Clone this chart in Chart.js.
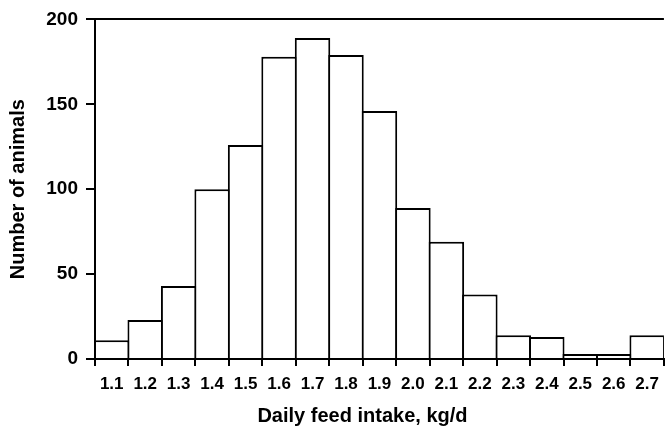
<!DOCTYPE html>
<html>
<head>
<meta charset="utf-8">
<script src="https://cdn.jsdelivr.net/npm/chart.js@4.4.1/dist/chart.umd.min.js"></script>
<style>
  html, body { margin: 0; padding: 0; background: #fff; }
  #wrap { width: 667px; height: 429px; position: relative; }
</style>
</head>
<body>
<div id="wrap"><canvas id="feedChart"></canvas></div>
<script>
// Histogram of daily feed intake
const categories = ['1.1', '1.2', '1.3', '1.4', '1.5', '1.6', '1.7', '1.8', '1.9',
  '2.0', '2.1', '2.2', '2.3', '2.4', '2.5', '2.6', '2.7'];
const animalCounts = [11, 23, 43, 100, 126, 178, 189, 179, 146, 89, 69, 38, 14, 13, 3, 3, 14];
const yTicks = [0, 50, 100, 150, 200];
const xTitle = 'Daily feed intake, kg/d';
const yTitle = 'Number of animals';

const FONT = "'Liberation Sans', Arial, sans-serif";

// x title is a bit left of the plot centre in the original, so draw it by hand
const xTitlePlugin = {
  id: 'xTitle',
  afterDraw(chart) {
    const c = chart.ctx;
    const area = chart.chartArea;
    c.save();
    c.font = 'bold 20px ' + FONT;
    c.fillStyle = '#000';
    c.textAlign = 'center';
    c.textBaseline = 'alphabetic';
    c.fillText(xTitle, (area.left + area.right) / 2 - 17, 422);
    c.restore();
  },
};

const ctx = document.getElementById('feedChart').getContext('2d');
new Chart(ctx, {
  type: 'bar',
  data: {
    labels: categories,
    datasets: [
      {
        data: animalCounts,
        backgroundColor: '#fff',
        borderColor: '#000',
        borderWidth: 2,
        borderSkipped: 'start',
        categoryPercentage: 1,
        barPercentage: 1.06,
      },
    ],
  },
  options: {
    responsive: true,
    maintainAspectRatio: false,
    animation: false,
    layout: { padding: { top: 15, right: 0, left: 0, bottom: 0 } },
    plugins: {
      legend: { display: false },
      tooltip: { enabled: false },
    },
    scales: {
      x: {
        grid: {
          offset: true,
          color: 'transparent',
          tickColor: '#000',
          tickLength: 7,
          lineWidth: 2,
        },
        border: { color: '#000', width: 2 },
        ticks: {
          color: '#000',
          padding: 8,
          maxRotation: 0,
          autoSkip: false,
          font: { family: FONT, size: 17, weight: 'bold' },
        },
        afterFit(scale) { scale.height = 70; },
      },
      y: {
        min: 0,
        max: 200,
        afterBuildTicks(scale) { scale.ticks = yTicks.map((v) => ({ value: v })); },
        grid: {
          color: (c) => (c.tick && c.tick.value === 200 ? '#000' : 'transparent'),
          tickColor: '#000',
          tickLength: 9,
          lineWidth: 2,
        },
        border: { color: '#000', width: 2 },
        ticks: {
          color: '#000',
          padding: 8,
          font: { family: FONT, size: 19, weight: 'bold' },
        },
        title: {
          display: true,
          text: yTitle,
          color: '#000',
          padding: { top: 6, bottom: 0 },
          font: { family: FONT, size: 20, weight: 'bold' },
        },
        afterFit(scale) { scale.width = 95; },
      },
    },
  },
  plugins: [xTitlePlugin],
});
</script>
</body>
</html>
